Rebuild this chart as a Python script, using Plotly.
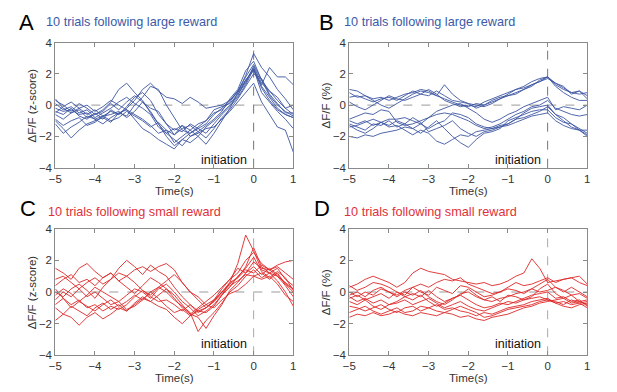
import plotly.graph_objects as go

t = [round(-5 + 0.2 * i, 1) for i in range(31)]

A = [
    [0.4, -0.2, -0.5, -0.3, -0.8, -0.6, -0.3, 0.2, 1.0, 1.4, 0.8, 0.3, -0.5, -1.2, -2.0, -2.6, -2.2, -1.8, -1.5, -1.2, -0.6, -0.2, 0.3, 0.9, 1.8, 2.6, 1.6, 0.6, 0.0, -0.4, -0.7],
    [-0.2, -0.4, -0.3, -0.6, -0.5, -0.9, -0.7, -0.4, -0.6, -0.2, 0.3, 1.0, 1.4, 0.9, 0.5, 0.4, 0.1, 0.5, 0.2, -0.2, -0.1, 0.0, 0.3, 0.8, 1.5, 2.4, 1.2, 0.5, -0.2, -0.6, -0.8],
    [-1.0, -1.5, -2.1, -1.6, -1.2, -1.0, -0.8, -1.1, -0.5, -0.3, -0.9, -1.5, -1.8, -2.2, -2.5, -2.8, -2.2, -2.4, -2.0, -2.5, -1.8, -1.0, -0.2, 0.8, 1.9, 3.3, 2.4, 1.8, 1.0, 0.4, -0.3],
    [-0.5, -0.1, 0.2, -0.2, 0.0, -0.4, -0.1, 0.3, 0.0, -0.3, -0.6, -0.9, -1.3, -1.8, -1.6, -1.9, -1.3, -1.6, -1.2, -1.0, -0.5, -0.3, 0.2, 0.9, 1.6, 2.2, 1.3, 2.4, 1.8, 1.8, 1.3],
    [-0.9, -1.3, -1.0, -0.8, -1.3, -1.1, -0.7, -0.6, -0.4, -0.8, -0.4, 0.2, -0.4, -1.2, -1.8, -2.2, -2.6, -2.0, -1.8, -1.5, -1.4, -0.9, -0.4, 0.2, 0.8, 1.4, 0.2, -0.6, -1.4, -1.6, -3.0],
    [0.1, -0.3, -0.1, -0.5, -0.3, -0.8, -0.5, -0.2, 0.2, 0.5, 0.1, -0.2, -0.6, -1.4, -1.8, -1.5, -1.7, -1.2, -1.5, -1.8, -1.2, -0.6, -0.1, 0.5, 1.3, 2.3, 0.8, 0.2, -0.4, -0.9, -1.5],
    [-0.4, -0.6, -0.2, -0.7, -0.9, -0.5, -0.9, -0.3, -0.6, -0.1, 0.5, 0.8, 0.3, -0.6, -1.2, -1.6, -1.3, -2.0, -1.7, -2.1, -1.5, -0.8, -0.3, 0.4, 1.2, 2.0, 1.7, 0.7, 0.1, -0.5, -0.5],
    [-1.2, -1.8, -1.4, -1.1, -0.7, -0.9, -1.2, -0.8, -0.5, -0.7, 0.0, 0.5, 1.2, 1.0, 0.0, -0.8, -1.6, -1.8, -1.4, -1.0, -0.3, -0.1, 0.1, 0.7, 1.4, 2.5, 1.4, 0.9, 0.5, -0.2, -0.6],
    [-0.6, -0.9, -0.5, -0.2, -0.6, -0.3, -0.7, -1.0, -0.8, -0.4, -0.7, -1.0, -1.4, -1.1, -1.6, -2.4, -2.0, -1.6, -2.0, -1.4, -1.0, -0.5, 0.0, 0.6, 1.6, 2.3, 1.1, 0.3, -0.3, -0.6, -0.8],
    [0.3, 0.0, -0.4, 0.1, -0.2, -0.6, -0.4, 0.1, -0.3, 0.2, 0.6, 0.2, -0.2, -0.4, -1.2, -1.9, -1.5, -1.3, -1.7, -1.3, -0.9, -0.4, 0.4, 1.0, 2.2, 2.8, 1.6, 0.9, 0.3, -0.2, 0.0],
]

B = [
    [1.0, 0.9, 0.6, 0.3, 0.0, -0.2, 0.1, 0.4, 0.7, 0.9, 0.8, 0.6, 1.3, 0.7, 0.3, 0.1, 0.0, -0.1, 0.1, 0.4, 0.7, 1.0, 1.2, 1.5, 1.7, 1.8, 1.3, 1.0, 0.8, 0.9, 0.4],
    [0.8, 0.5, 0.6, 0.4, 0.5, 0.3, 0.5, 0.7, 0.8, 1.0, 0.9, 0.6, 0.4, 0.2, 0.0, -0.1, 0.1, 0.0, 0.3, 0.5, 0.6, 0.8, 1.0, 1.2, 1.6, 1.8, 1.2, 0.8, 0.5, 0.3, 0.3],
    [0.5, 0.6, 0.4, 0.2, 0.4, 0.5, 0.3, 0.6, 0.9, 0.7, 1.0, 0.7, 0.3, 0.1, -0.1, 0.0, -0.1, 0.2, 0.4, 0.6, 0.8, 1.0, 1.1, 1.3, 1.5, 1.7, 1.4, 1.1, 0.8, 0.7, 0.8],
    [-0.9, -0.7, -0.5, -0.6, -0.3, -0.4, -1.1, -1.3, -1.2, -1.0, -0.8, -0.4, -0.2, 0.0, 0.1, -0.2, -0.5, -0.9, -1.1, -0.9, -0.6, -0.4, -0.1, 0.1, 0.3, 0.5, -0.3, -0.1, -0.2, -0.3, 0.0],
    [-1.0, -1.2, -1.0, -1.3, -1.1, -0.9, -0.9, -0.8, -1.0, -1.2, -1.5, -1.2, -1.0, -0.5, -0.6, -0.8, -1.2, -1.4, -1.5, -1.3, -1.2, -0.9, -0.5, -0.2, -0.1, 0.0, -0.6, -0.8, -1.2, -1.6, -1.9],
    [-1.2, -1.4, -1.6, -1.2, -1.3, -1.0, -1.4, -1.2, -0.8, -1.1, -1.7, -1.5, -1.3, -1.0, -1.5, -1.8, -2.0, -1.7, -1.6, -1.4, -1.2, -0.9, -0.8, -0.6, -0.4, -0.1, -0.6, -1.0, -1.4, -1.6, -2.0],
    [-1.3, -1.6, -1.8, -1.5, -1.1, -1.3, -1.0, -1.2, -1.5, -1.8, -1.4, -1.0, -1.5, -2.0, -2.4, -2.7, -2.2, -1.8, -1.7, -1.5, -1.0, -0.8, -0.6, -0.4, -0.3, -0.3, -0.8, -1.1, -1.2, -1.5, -1.8],
    [-2.0, -2.1, -1.9, -2.0, -1.8, -1.7, -1.6, -1.4, -1.5, -1.2, -0.8, -0.6, -0.5, -0.6, -0.8, -1.0, -1.3, -1.5, -1.4, -1.2, -0.9, -0.6, -0.4, -0.1, 0.0, 0.3, -0.2, -0.4, -0.6, -0.7, -0.6],
    [-1.4, -1.3, -1.1, -0.9, -1.1, -1.4, -1.3, -1.6, -1.9, -1.6, -1.8, -2.3, -2.5, -2.2, -1.9, -2.0, -1.7, -1.6, -1.5, -1.4, -1.3, -1.1, -0.9, -0.7, -0.6, -0.5, -1.0, -1.3, -1.5, -1.6, -1.6],
    [0.2, -0.1, -0.3, 0.0, 0.3, 0.6, 0.4, 0.3, 0.5, 0.7, 0.6, 0.9, 0.6, 0.3, 0.2, 0.1, -0.2, 0.0, 0.2, 0.4, 0.6, 0.7, 1.0, 1.3, 1.5, 1.8, 1.4, 1.2, 0.7, 0.9, 0.6],
]

C = [
    [1.5, 1.2, 0.8, 1.5, 1.8, 1.3, 0.9, 1.2, 0.7, 1.0, 1.4, 1.6, 1.3, 1.6, 1.8, 1.4, 0.6, 0.0, -0.3, -0.8, -0.5, 0.2, 0.8, 1.5, 1.2, 1.9, 1.5, 1.4, 1.7, 1.9, 2.0],
    [0.8, 1.0, 0.6, 0.2, 0.6, 0.9, 0.5, 0.8, 1.5, 2.0, 1.6, 1.1, 1.7, 1.3, 1.0, 0.3, -0.3, -0.8, -1.2, -1.3, -0.9, -0.2, 0.6, 1.8, 3.6, 2.6, 1.4, 1.2, 1.5, 0.8, 0.4],
    [0.0, -0.3, 0.2, 0.5, 0.1, -0.4, 0.3, 0.8, 1.2, 1.0, 0.6, 0.1, -0.2, 0.3, 0.7, 1.1, 0.6, 0.0, -0.5, -1.0, -0.6, 0.0, 0.5, 0.9, 1.6, 2.8, 1.6, 1.2, 1.0, 0.6, 0.2],
    [-0.2, 0.2, -0.1, -0.6, -0.2, 0.3, 0.0, -0.3, -0.6, -0.2, 0.2, 0.0, -0.4, 0.2, 0.5, 0.0, -0.6, -1.0, -1.5, -1.2, -0.8, -0.2, 0.3, 1.0, 1.5, 2.2, 1.3, 0.9, 1.3, 0.9, 0.1],
    [-0.8, -0.4, -1.0, -0.6, -0.9, -1.2, -0.8, -0.5, -0.9, -0.6, -0.2, -0.5, 0.0, 0.3, 0.0, -0.5, -0.9, -1.3, -2.5, -1.8, -1.3, -0.7, 0.0, 0.4, 1.0, 1.4, 0.9, 1.2, 0.7, 0.0, -0.9],
    [-1.8, -1.4, -0.9, -1.2, -1.5, -1.0, -0.7, -1.1, -0.8, -1.2, -0.8, -0.4, -0.6, -0.2, 0.2, -0.2, -0.8, -1.4, -1.6, -2.3, -1.5, -0.8, 0.1, 0.6, 1.2, 1.6, 1.1, 1.5, 1.1, 0.5, 0.0],
    [-1.0, -1.4, -1.6, -2.1, -1.6, -1.3, -1.7, -1.4, -1.0, -1.2, -0.7, -0.3, -0.6, -0.9, -1.1, -1.6, -2.0, -1.5, -1.2, -1.0, -0.6, -0.1, 0.4, 0.7, 1.1, 1.0, 0.8, 1.0, 0.5, -0.2, -0.6],
    [0.2, -0.4, -0.8, -0.5, -1.0, -0.8, -1.2, -0.9, -1.1, -0.8, -0.3, 0.1, -0.3, -0.6, -0.5, -0.8, -1.2, -0.8, -1.3, -1.0, -0.5, 0.0, 0.6, 0.9, 1.4, 1.2, 1.7, 1.4, 1.0, 0.4, -0.3],
    [0.4, 0.8, 1.1, 0.6, 0.8, 0.4, 0.9, 1.2, 0.7, 0.3, -0.1, 0.4, 0.9, 0.6, 0.2, -0.4, -1.0, -1.4, -1.0, -0.6, -0.2, 0.3, 0.8, 1.2, 2.0, 2.5, 1.8, 1.4, 1.6, 1.2, 0.8],
    [-0.5, 0.0, -0.3, 0.2, -0.3, 0.0, -0.4, -0.8, -0.6, -1.1, -0.9, -0.5, 0.0, -0.4, -0.9, -1.3, -1.1, -1.5, -1.1, -0.8, -1.0, -0.5, -0.1, 0.1, 0.5, 1.0, 1.2, 0.8, 1.2, 0.5, 0.2],
]

D = [
    [0.3, 0.5, 0.8, 1.0, 0.8, 0.6, 0.3, 0.6, 1.2, 1.5, 1.3, 1.2, 1.1, 0.8, 0.7, 0.6, 0.5, 0.6, 0.4, 0.5, 0.7, 1.0, 1.2, 2.1, 1.5, 0.6, 0.7, 0.8, 0.9, 0.6, 0.4],
    [0.4, 0.1, 0.3, 0.6, 0.5, 0.3, 0.0, -0.2, 0.3, 0.5, 0.3, 0.6, 0.8, 0.7, 0.9, 0.5, 0.3, 0.1, -0.1, 0.0, 0.3, 0.6, 0.4, 0.5, 0.7, 0.9, 0.6, 0.8, 0.9, 1.0, 0.5],
    [-0.2, 0.0, -0.3, 0.1, 0.3, 0.0, -0.2, 0.1, 0.3, 0.0, -0.2, 0.3, 0.1, -0.1, 0.4, 0.3, 0.0, -0.3, -0.2, 0.0, 0.2, 0.1, -0.1, 0.2, 0.5, 0.8, 0.3, 0.0, 0.3, 0.0, -0.3],
    [-0.4, -0.2, -0.5, -0.3, -0.1, -0.4, 0.0, -0.3, -0.1, -0.3, 0.1, -0.3, -0.6, -0.4, -0.2, 0.2, -0.2, -0.5, -0.3, -0.6, -0.2, -0.3, -0.5, -0.3, 0.2, 0.5, -0.1, -0.4, -0.2, -0.6, -0.8],
    [-0.3, -0.6, -0.4, -0.7, -0.5, -0.8, -0.6, -0.3, -0.5, -0.2, -0.6, -0.9, -0.7, -0.4, -0.2, -0.5, -0.8, -1.0, -0.9, -0.7, -0.8, -0.6, -0.4, -0.2, -0.1, 0.0, -0.4, -0.3, -0.6, -0.5, -0.9],
    [-0.6, -0.8, -0.5, -0.9, -1.1, -0.8, -0.7, -0.5, -0.8, -0.6, -0.4, -0.7, -1.0, -0.8, -0.6, -0.9, -1.1, -1.2, -1.0, -0.8, -0.6, -0.7, -0.5, -0.4, -0.3, -0.5, -0.6, -0.8, -0.5, -0.7, -0.6],
    [-0.9, -1.0, -1.2, -1.0, -0.8, -1.1, -1.3, -1.0, -0.9, -1.2, -1.0, -0.8, -1.1, -1.0, -1.2, -1.3, -1.5, -1.3, -1.4, -1.2, -1.0, -0.9, -0.8, -0.6, -0.5, -0.4, -0.7, -0.6, -0.8, -0.7, -1.0],
    [-1.3, -1.1, -0.9, -1.2, -1.4, -1.2, -1.0, -1.3, -1.2, -0.9, -1.0, -1.2, -1.3, -1.1, -0.9, -1.1, -1.3, -1.6, -1.5, -1.3, -1.1, -1.0, -0.9, -0.8, -0.6, -0.5, -0.7, -0.9, -1.0, -0.8, -0.7],
    [-1.6, -1.4, -1.5, -1.3, -1.5, -1.4, -1.2, -1.4, -1.5, -1.3, -1.4, -1.5, -1.3, -1.4, -1.6, -1.5, -1.7, -1.8, -1.6, -1.5, -1.4, -1.2, -1.0, -0.9, -0.7, -0.6, -0.5, -0.4, -0.7, -0.6, -0.5],
    [0.0, -0.3, 0.0, -0.2, 0.2, 0.0, -0.3, 0.0, -0.2, 0.1, -0.3, -0.6, -0.8, -0.5, -0.1, 0.0, -0.3, -0.5, -0.6, -0.4, -0.3, -0.1, 0.0, 0.2, 0.0, 0.1, 0.3, 0.1, -0.2, -0.1, -0.4],
]

x_ticks = [-5, -4, -3, -2, -1, 0, 1]
y_ticks = [-4, -2, 0, 2, 4]

panels = [
    dict(letter="A", title="10 trials following large reward", ylabel="ΔF/F (z-score)", data=A,
         color="#3f58a3", tcolor="#3b5aa8", lx=17, ly=22, tx=44.3, ty=22),
    dict(letter="B", title="10 trials following large reward", ylabel="ΔF/F (%)", data=B,
         color="#3f58a3", tcolor="#3b5aa8", lx=317, ly=22, tx=342.3, ty=22),
    dict(letter="C", title="10 trials following small reward", ylabel="ΔF/F (z-score)", data=C,
         color="#e02a2a", tcolor="#e0303a", lx=18, ly=208, tx=45.7, ty=212),
    dict(letter="D", title="10 trials following small reward", ylabel="ΔF/F (%)", data=D,
         color="#e02a2a", tcolor="#e0303a", lx=312, ly=208, tx=342.3, ty=212),
]

# page body has an 8px margin; figure is sized to fit inside the window
OFF = 8
W, H = 617 - 2 * OFF, 392 - 2 * OFF


def px(X):
    return (X - OFF) / W


def py(Y):
    return 1 - (Y - OFF) / H


xpix = [[55.3, 293.3], [349.3, 587.3]]
ypix = [[42.5, 167.7], [228.7, 355.3]]
xdom = [[px(a), px(b)] for a, b in xpix]
ydom = [[py(b), py(a)] for a, b in ypix]

fig = go.Figure()
annotations = []
shapes = []
font = "Liberation Sans, Arial, sans-serif"
axcol = "#8a8a8a"

for i, p in enumerate(panels):
    r, c = divmod(i, 2)
    n = i + 1
    xa = "x" if n == 1 else f"x{n}"
    ya = "y" if n == 1 else f"y{n}"
    for tr in p["data"]:
        fig.add_trace(go.Scatter(x=t, y=tr, mode="lines", xaxis=xa, yaxis=ya,
                                 line=dict(color=p["color"], width=1), opacity=0.9,
                                 showlegend=False, hoverinfo="skip"))
    axis_common = dict(showgrid=False, zeroline=False, showline=True, linecolor=axcol,
                       linewidth=1, mirror="ticks", ticks="inside", ticklen=4, automargin=False,
                       tickcolor=axcol, tickfont=dict(family=font, size=11.5, color="#333"))
    fig.layout[f"xaxis{'' if n == 1 else n}"] = dict(domain=xdom[c], range=[-5, 1], tickvals=x_ticks,
                                                    anchor=ya, **axis_common)
    fig.layout[f"yaxis{'' if n == 1 else n}"] = dict(domain=ydom[r], range=[-4, 4], tickvals=y_ticks,
                                                    anchor=xa, **axis_common)
    shapes.append(dict(type="line", xref=xa, yref=ya, x0=-5, x1=1, y0=0, y1=0,
                       line=dict(color="#999", width=1, dash="dash"), layer="below"))
    shapes.append(dict(type="line", xref=xa, yref=ya, x0=0, x1=0, y0=-4, y1=4,
                       line=dict(color="#777" if r == 0 else "#aaa", width=1, dash="dash"), layer="below"))
    annotations.append(dict(text="initiation", xref=xa, yref=ya, x=-0.12, y=-3.5 if r == 0 else -3.3,
                            xanchor="right", yanchor="middle", showarrow=False,
                            font=dict(family=font, size=12.5, color="#111")))
    x0p, x1p = xpix[c]
    y0p, y1p = ypix[r]
    annotations.append(dict(text="Time(s)", xref="paper", yref="paper", x=px((x0p + x1p) / 2),
                            y=py(191 if r == 0 else 378), xanchor="center", yanchor="middle",
                            showarrow=False, font=dict(family=font, size=11.5, color="#333")))
    annotations.append(dict(text=p["ylabel"], xref="paper", yref="paper", x=px(x0p - 23), y=py((y0p + y1p) / 2),
                            textangle=-90, xanchor="center", yanchor="middle", showarrow=False,
                            font=dict(family=font, size=11.5, color="#333")))
    annotations.append(dict(text=p["letter"], xref="paper", yref="paper", x=px(p["lx"]), y=py(p["ly"]),
                            xanchor="left", yanchor="middle", showarrow=False,
                            font=dict(family=font, size=22, color="#000")))
    annotations.append(dict(text=p["title"], xref="paper", yref="paper", x=px(p["tx"]), y=py(p["ty"]),
                            xanchor="left", yanchor="middle", showarrow=False,
                            font=dict(family=font, size=12.7, color=p["tcolor"])))

fig.update_layout(width=W, height=H, margin=dict(l=0, r=0, t=0, b=0, autoexpand=False),
                  paper_bgcolor="white", plot_bgcolor="white",
                  annotations=annotations, shapes=shapes)

fig.write_html("out.html")
